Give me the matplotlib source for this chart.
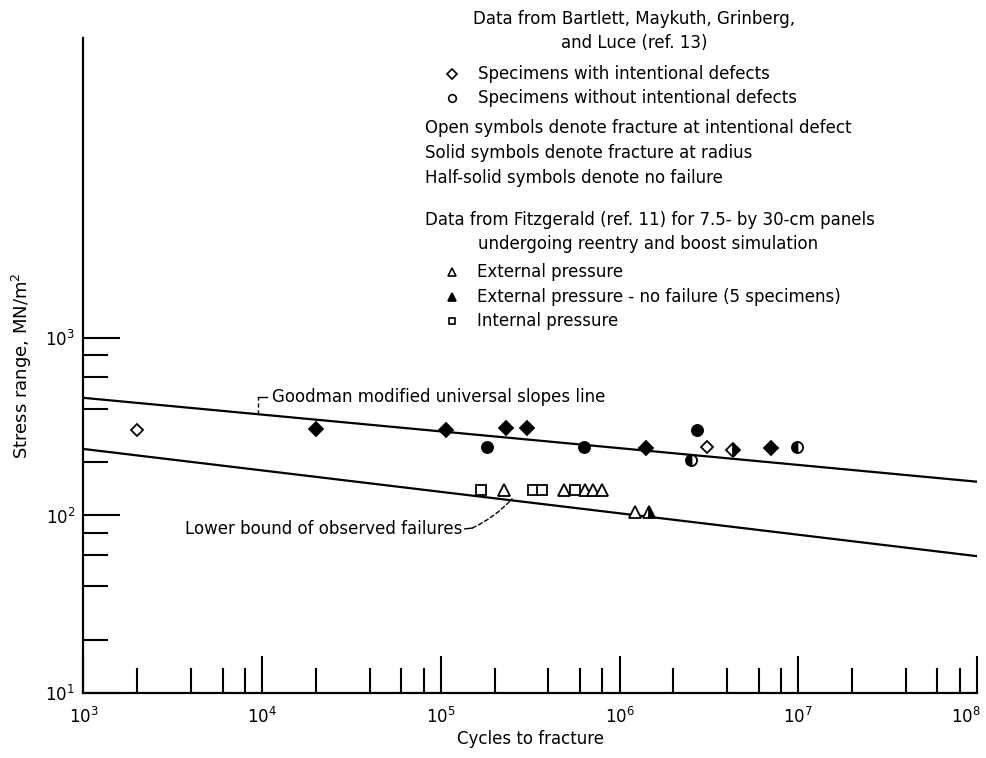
import numpy as np
import matplotlib
matplotlib.use("Agg")
import matplotlib.pyplot as plt
from matplotlib.ticker import FixedLocator, LogFormatterMathtext, NullFormatter, FuncFormatter

plt.rcParams['font.family'] = ['DejaVu Sans']

# cycles to fracture / stress range (MN/m^2)
open_diamond_N = [2.0e3, 3.1e6]
open_diamond_S = [303, 242]
solid_diamond_N = [2.0e4, 1.07e5, 2.3e5, 3.05e5, 1.4e6, 7.0e6]
solid_diamond_S = [307, 303, 310, 310, 239, 239]
half_diamond_N = [4.3e6]
half_diamond_S = [234]
solid_circle_N = [1.8e5, 6.3e5, 2.7e6]
solid_circle_S = [242, 242, 303]
half_circle_N = [2.5e6, 9.8e6]
half_circle_S = [206, 242]
open_triangle_N = [2.26e5, 4.9e5, 6.4e5, 7.1e5, 8.0e5, 1.22e6]
open_triangle_S = [139, 139, 139, 139, 139, 105]
half_triangle_N = [1.46e6]
half_triangle_S = [105]
open_square_N = [1.68e5, 3.26e5, 3.67e5, 5.64e5]
open_square_S = [139, 139, 139, 139]

# Goodman modified universal slopes line and lower bound
line_N = [1e3, 1e8]
goodman_S = [460, 155]
lower_S = [237, 59]

x_major = [1e3, 1e4, 1e5, 1e6, 1e7, 1e8]
x_minor = [m * 10 ** e for e in range(3, 8) for m in (2, 4, 6, 8)]
y_major = [10, 100, 1000]
y_minor = [20, 40, 60, 80, 200, 400, 600, 800]

W, H = 987, 758
fig = plt.figure(figsize=(W / 100, H / 100), dpi=100)
ax = fig.add_axes([83.5 / W, 1 - 693 / H, (977 - 83.5) / W, (693 - 38) / H])

ax.set_xscale('log')
ax.set_yscale('log')
ax.set_xlim(1e3, 1e8)
ax.set_ylim(10, 10 ** 4.69)

for side in ['top', 'right']:
    ax.spines[side].set_visible(False)
for side in ['left', 'bottom']:
    ax.spines[side].set_linewidth(1.6)

ax.plot(line_N, goodman_S, color='black', lw=1.6)
ax.plot(line_N, lower_S, color='black', lw=1.6)

ms = 8
kw = dict(ls='none', color='black', mec='black', mew=1.3)
ax.plot(open_diamond_N, open_diamond_S, marker='D', ms=ms - 2, mfc='white', **kw)
ax.plot(solid_diamond_N, solid_diamond_S, marker='D', ms=ms - 1, mfc='black', **kw)
ax.plot(half_diamond_N, half_diamond_S, marker='D', ms=ms - 1, fillstyle='right',
        mfc='black', mfcalt='white', **kw)
ax.plot(solid_circle_N, solid_circle_S, marker='o', ms=ms, mfc='black', **kw)
ax.plot(half_circle_N, half_circle_S, marker='o', ms=ms, fillstyle='left',
        mfc='black', mfcalt='white', **kw)
ax.plot(open_triangle_N, open_triangle_S, marker='^', ms=ms, mfc='white', **kw)
ax.plot(half_triangle_N, half_triangle_S, marker='^', ms=ms, fillstyle='right',
        mfc='black', mfcalt='white', **kw)
ax.plot(open_square_N, open_square_S, marker='s', ms=ms - 1, mfc='white', **kw)

# ticks: long majors, shorter minors at 2, 4, 6, 8, drawn inward
fmt = LogFormatterMathtext()
ax.xaxis.set_major_locator(FixedLocator(x_major))
ax.xaxis.set_minor_locator(FixedLocator(x_minor))
ax.yaxis.set_major_locator(FixedLocator(y_major))
ax.yaxis.set_minor_locator(FixedLocator(y_minor))
# last x label is drawn separately so it stays inside the figure
ax.xaxis.set_major_formatter(FuncFormatter(lambda v, p: '' if v >= x_major[-1] else fmt(v, p)))
ax.yaxis.set_major_formatter(fmt)
ax.xaxis.set_minor_formatter(NullFormatter())
ax.yaxis.set_minor_formatter(NullFormatter())
ax.tick_params(which='major', direction='in', length=26.5, width=1.5, labelsize=12, pad=10)
ax.tick_params(which='minor', direction='in', length=18, width=1.5)
ax.tick_params(axis='y', which='major', pad=6)
ax.annotate(fmt(x_major[-1]), xy=(x_major[-1], 10), xytext=(-8, -10),
            textcoords='offset points', ha='center', va='top', fontsize=12,
            annotation_clip=False)

ax.set_xlabel('Cycles to fracture', fontsize=12, labelpad=2)
ax.set_ylabel('Stress range, MN/m$^2$', fontsize=13, labelpad=8)


def on_line(n, s):
    # point on a log-log straight line at cycles n
    t = (np.log10(n) - np.log10(line_N[0])) / (np.log10(line_N[1]) - np.log10(line_N[0]))
    return 10 ** (np.log10(s[0]) + t * (np.log10(s[1]) - np.log10(s[0])))


# line callouts
gN = 9.5e3
gS = on_line(gN, goodman_S)
ax.plot([gN, gN], [gS, gS * 1.25], color='black', lw=1.0, ls=(0, (3, 2)))
ax.plot([gN, gN * 1.12], [gS * 1.25, gS * 1.25], color='black', lw=1.0)
ax.text(gN * 1.2, gS * 1.25, 'Goodman modified universal slopes line',
        fontsize=12, va='center', ha='left')

lN = 2.5e5
lS = on_line(lN, lower_S)
ax.text(1.32e5, 84, 'Lower bound of observed failures', fontsize=12, va='center', ha='right')
ax.plot([1.36e5, 1.5e5], [84, 85], color='black', lw=1.0)
ax.annotate('', xy=(lN, lS * 1.02), xytext=(1.5e5, 85),
            arrowprops=dict(arrowstyle='-', color='black', lw=1.0, ls=(0, (3, 2)),
                            shrinkA=0, shrinkB=0, connectionstyle='arc3,rad=0.1'))


def ftext(x, y, s, **k):
    fig.text(x / W, 1 - y / H, s, fontsize=12, va='center', **k)


def fmark(x, y, marker, filled=False, size=5.5):
    fig.add_artist(plt.Line2D([x / W], [1 - y / H], marker=marker, ms=size, ls='none',
                              mec='black', mew=1.2, mfc='black' if filled else 'white'))


ftext(634, 19, 'Data from Bartlett, Maykuth, Grinberg,', ha='center')
ftext(634, 43, 'and Luce (ref. 13)', ha='center')
fmark(452, 74, 'D', size=5)
ftext(478, 74, 'Specimens with intentional defects', ha='left')
fmark(452, 98, 'o')
ftext(478, 98, 'Specimens without intentional defects', ha='left')
ftext(425, 128, 'Open symbols denote fracture at intentional defect', ha='left')
ftext(425, 153, 'Solid symbols denote fracture at radius', ha='left')
ftext(425, 178, 'Half-solid symbols denote no failure', ha='left')
ftext(425, 220, 'Data from Fitzgerald (ref. 11) for 7.5- by 30-cm panels', ha='left')
ftext(648, 244, 'undergoing reentry and boost simulation', ha='center')
fmark(452, 272, '^')
ftext(477, 272, 'External pressure', ha='left')
fmark(452, 297, '^', filled=True)
ftext(477, 297, 'External pressure - no failure (5 specimens)', ha='left')
fmark(452, 321, 's', size=5)
ftext(477, 321, 'Internal pressure', ha='left')

fig.savefig('out.png', dpi=100)
